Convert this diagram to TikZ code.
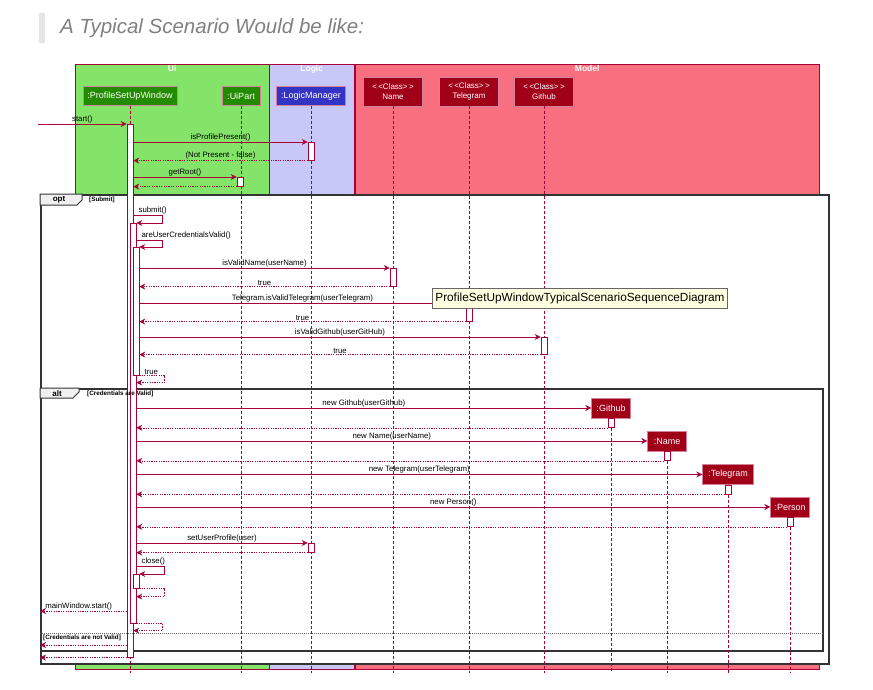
\documentclass[tikz,border=0pt]{standalone}
\usepackage{fontspec}
\setmainfont{Liberation Sans}
\usepackage{tikz}
\usetikzlibrary{shapes, calc, arrows, arrows.meta, positioning}
\definecolor{seq}{HTML}{A80036}
\definecolor{uibg}{HTML}{84E46A}
\definecolor{logicbg}{HTML}{C8C8F8}
\definecolor{modelbg}{HTML}{F87080}
\definecolor{uifg}{HTML}{238B00}
\definecolor{logicfg}{HTML}{3434C4}
\definecolor{modelfg}{HTML}{A00018}
\definecolor{tipbg}{HTML}{FFFFE1}

\begin{document}
\begin{tikzpicture}[x=1pt,y=-1pt,>={Stealth[length=6pt,width=6pt,inset=2pt]},font=\fontsize{7.8}{9}\selectfont,inner sep=1pt]
	\tikzset{
		grp/.style={draw=seq, anchor=north west, inner sep=0pt},
		grptitle/.style={text=white, font=\fontsize{8.5}{9}\selectfont\bfseries, anchor=north, inner sep=1.5pt},
		part/.style={draw=seq!50, text=white, minimum height=19, inner sep=0pt, font=\fontsize{9}{10}\selectfont},
		cls/.style={part, fill=modelfg, minimum width=59, minimum height=29, align=center, font=\fontsize{8}{10}\selectfont},
		new/.style={part, fill=modelfg, minimum width=39, minimum height=20},
		life/.style={draw=seq, dash pattern=on 3pt off 2pt, line width=0.6pt},
		act/.style={draw=seq, fill=white, minimum width=6, inner sep=0pt, anchor=north, line width=0.6pt},
		msg/.style={draw=seq, ->, line width=0.6pt},
		ret/.style={msg, dash pattern=on 1.2pt off 1.2pt},
		self/.style={above right, xshift=4pt},
		frag/.style={draw=black!80, fill=white, line width=1.5pt, anchor=north west, inner sep=0pt},
		tab/.style={draw=black!80, fill=black!6, line width=1pt},
		guard/.style={font=\fontsize{6.3}{7}\selectfont\bfseries},
		tip/.style={draw=black!60, fill=tipbg, line width=0.8pt, inner xsep=3pt, minimum height=20, font=\fontsize{11.8}{13}\selectfont}
	}
	\useasboundingbox (0,0) rectangle (873,689);
	\fill[black!10] (39,13) rectangle (45,43);
	\node[anchor=west, text=black!50, font=\fontsize{20.5}{22}\selectfont\itshape] (title) at (59,28) {A Typical Scenario Would be like:};

	\node[grp, fill=uibg, minimum width=194, minimum height=605] (ui) at (75,64) {};
	\node[grp, fill=logicbg, minimum width=85, minimum height=605] (logic) at (269,64) {};
	\node[grp, fill=modelbg, minimum width=464, minimum height=605] (model) at (355,64) {};
	\node[grptitle] (uit) at (ui.north) {Ui};
	\node[grptitle] (logict) at (logic.north) {Logic};
	\node[grptitle] (modelt) at (model.north) {Model};

	\node[part, fill=uifg, minimum width=94] (psw) at (130,96) {:ProfileSetUpWindow};
	\node[part, fill=uifg, minimum width=38] (uip) at (241,96) {:UiPart};
	\node[part, fill=logicfg, minimum width=69] (lgm) at (311,96) {:LogicManager};
	\node[cls] (name) at (393,91.5) {<\,<Class>\,>\\Name};
	\node[cls] (tele) at (469,91.5) {<\,<Class>\,>\\Telegram};
	\node[cls] (git) at (544,91.5) {<\,<Class>\,>\\Github};

	\node[frag, minimum width=788, minimum height=469] (opt) at (40,194) {};
	\node[frag, fill=none, minimum width=782, minimum height=262] (alt) at (40,388) {};
	\draw[tab] (opt.north west) -- ++(0,11) -- ++(37,0) -- ++(5,-5) -- ++(0,-6) -- cycle;
	\draw[tab] (alt.north west) -- ++(0,10) -- ++(33,0) -- ++(6,-6) -- ++(0,-4) -- cycle;
	\node[font=\fontsize{8}{9}\selectfont\bfseries] (optl) at (59,199.5) {opt};
	\node[font=\fontsize{8}{9}\selectfont\bfseries] (altl) at (57,393.5) {alt};

	\node[new] (gh) at (611,408) {:Github};
	\node[new] (nm) at (667,441) {:Name};
	\node[new, minimum width=51] (tg) at (728,474.5) {:Telegram};
	\node[new] (per) at (790,507) {:Person};

	\coordinate (bot) at (0,673);
	\coordinate (in) at (38,124);
	\foreach \p in {psw, uip, lgm, name, tele, git, gh, nm, tg, per}
		\draw[life] (\p.south) -- (\p |- bot);

	\node[act, minimum height=533] (a1) at (130,124) {};
	\node[act, minimum height=400] (a2) at (133,223) {};
	\node[act, minimum height=128] (a3) at (136,247) {};
	\node[act, minimum height=14] (a4) at (136,574) {};
	\node[act, minimum height=18] (lg1) at (311,142) {};
	\node[act, minimum height=9] (ui1) at (240,177) {};
	\node[act, minimum height=18] (nm1) at (393,268) {};
	\node[act, minimum height=18] (tg1) at (469,303) {};
	\node[act, minimum height=17] (gh1) at (544,337) {};
	\node[act, minimum height=9] (lg2) at (311,543) {};
	\node[act, minimum height=9] (gh2) at (gh.south) {};
	\node[act, minimum height=9] (nm2) at (nm.south) {};
	\node[act, minimum height=9] (tg2) at (tg.south) {};
	\node[act, minimum height=9] (per2) at (per.south) {};
	\node[guard, anchor=west] (g1) at (88,199.5) {[Submit]};
	\node[guard, anchor=west] (g2) at (86,394) {[Credentials are Valid]};
	\node[guard, anchor=north west] (g3) at (42,634) {[Credentials are not Valid]};

	\draw[msg] (in) -- (a1.north west) node[midway, above] {start()};
	\draw[msg] (a1.east |- lg1.north) -- (lg1.north west) node[midway, above] {isProfilePresent()};
	\draw[ret] (lg1.south west) -- (a1.east |- lg1.south) node[midway, above] {(Not Present - false)};
	\draw[msg] (a1.east |- ui1.north) -- (ui1.north west) node[midway, above] {getRoot()};
	\draw[ret] (ui1.south west) -- (a1.east |- ui1.south);

	\draw[msg] (a1.east |- 0,215) node[self] {submit()} -- ++(29,0) |- (a2.north east);
	\draw[msg] (a2.east |- 0,240) node[self] {areUserCredentialsValid()} -- ++(26,0) |- (a3.north east);
	\draw[msg] (a3.east |- nm1.north) -- (nm1.north west) node[midway, above] {isValidName(userName)};
	\draw[ret] (nm1.south west) -- (a3.east |- nm1.south) node[midway, above] {true};
	\draw[msg] (a3.east |- tg1.north) -- (tg1.north west) node[midway, above] {Telegram.isValidTelegram(userTelegram)};
	\draw[ret] (tg1.south west) -- (a3.east |- tg1.south) node[midway, above] {true};
	\draw[msg] (a3.east |- gh1.north) -- (gh1.north west) node[midway, above] {isValidGithub(userGitHub)};
	\draw[ret] (gh1.south west) -- (a3.east |- gh1.south) node[midway, above] {true};
	\draw[ret] (a3.south east) node[self] {true} -- ++(25,0) -- ++(0,7) -- ++(-28,0);

	\draw[msg] (a2.east |- gh) -- (gh.west) node[midway, above] {new Github(userGithub)};
	\draw[ret] (gh2.south west) -- (a2.east |- gh2.south);
	\draw[msg] (a2.east |- nm) -- (nm.west) node[midway, above] {new Name(userName)};
	\draw[ret] (nm2.south west) -- (a2.east |- nm2.south);
	\draw[msg] (a2.east |- tg) -- (tg.west) node[midway, above] {new Telegram(userTelegram)};
	\draw[ret] (tg2.south west) -- (a2.east |- tg2.south);
	\draw[msg] (a2.east |- per) -- (per.west) node[midway, above] {new Person()};
	\draw[ret] (per2.south west) -- (a2.east |- per2.south);
	\draw[msg] (a2.east |- lg2.north) -- (lg2.north west) node[midway, above] {setUserProfile(user)};
	\draw[ret] (lg2.south west) -- (a2.east |- lg2.south);
	\draw[msg] (a2.east |- 0,566) node[self] {close()} -- ++(28,0) |- (a4.north east);
	\draw[ret] (a4.south east) -- ++(25,0) -- ++(0,8) -- ++(-28,0);
	\draw[ret] (a1.west |- 0,611) -- (alt.west |- 0,611) node[pos=1, self] {mainWindow.start()};
	\draw[ret] (a2.south east) -- ++(26,0) -- ++(0,7) -- ++(-29,0);
	\draw[black!60, dash pattern=on 1pt off 1pt] (alt.west |- 0,633) -- (alt.east |- 0,633);
	\draw[ret] (a1.west |- 0,645) -- (alt.west |- 0,645);
	\draw[ret] (a1.south west) -- (opt.west |- a1.south);

	\node[tip] (tip) at (580,298) {ProfileSetUpWindowTypicalScenarioSequenceDiagram};
\end{tikzpicture}
\end{document}
